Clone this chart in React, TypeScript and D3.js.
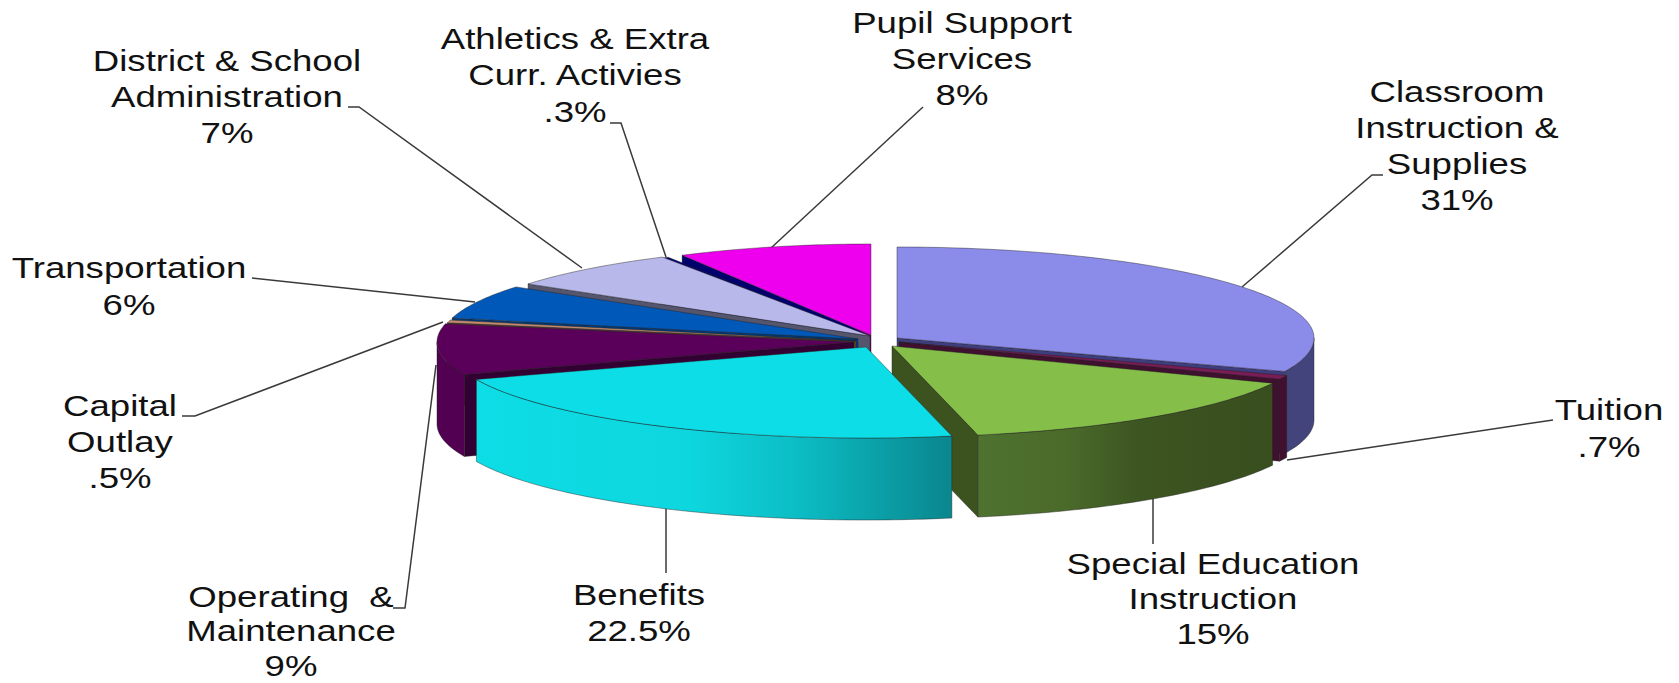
import React from "react";
import * as d3 from "d3";

// Share of the budget per category, clockwise from twelve o'clock
const categories = [
  "Classroom Instruction & Supplies",
  "Tuition",
  "Special Education Instruction",
  "Benefits",
  "Operating & Maintenance",
  "Capital Outlay",
  "Transportation",
  "District & School Administration",
  "Athletics & Extra Curr. Activies",
  "Pupil Support Services",
];
const shares = [31, 0.7, 15, 22.5, 9, 0.5, 6, 7, 0.3, 8];
const shareLabels = ["31%", ".7%", "15%", "22.5%", "9%", ".5%", "6%", "7%", ".3%", "8%"];

const topColors = ["#8b8bea", "#7a1c55", "#85bf4a", "#0ddde6", "#5a005a", "#c48a6e", "#0058b8", "#b8b8ea", "#00006e", "#ee00ee"];
const rimColors = ["#44447c", "#40102f", "url(#greenRim)", "url(#tealRim)", "#520052", "#63452f", "#003a78", "#5c5c75", "#00004a", "#660066"];
const edgeColors = ["#3e3e7e", "#40102f", "#3c5320", "#0a8a90", "#330033", "#63452f", "#003a78", "#55556e", "#00004a", "url(#magentaEdge)"];

// Pixel centre of each wedge once pulled out of the pie
const wedgeCentres: [number, number][] = [
  [897, 338], [899, 342], [892, 346], [866, 347], [854, 342],
  [856, 341], [858, 339], [870, 336], [869, 337], [871, 335],
];
// Horizontal radius per wedge; the far wedge reads narrower in perspective
const wedgeRadii = [417, 417, 417, 417, 417, 417, 417, 417, 417, 392];
// Painter's order: far wedges first, nearest last
const paintOrder = [9, 8, 7, 6, 5, 4, 0, 1, 2, 3];

const RY = 91;
const DEPTH = 82;

// Label lines, one entry per wedge
const labelLines = [
  ["Classroom", "Instruction &", "Supplies"],
  ["Tuition"],
  ["Special Education", "Instruction"],
  ["Benefits"],
  ["Operating\u00a0 &", "Maintenance"],
  ["Capital", "Outlay"],
  ["Transportation"],
  ["District & School", "Administration"],
  ["Athletics & Extra", "Curr. Activies"],
  ["Pupil Support", "Services"],
];
// Centre x and first baseline of each label block
const labelAnchors: [number, number][] = [
  [1457, 102], [1609, 420], [1213, 574], [639, 605], [291, 606.5],
  [120, 416], [129, 278], [227, 71], [575, 49], [962, 33],
];
const labelGaps = [36, 37, 35, 36, 35, 36, 37, 36, 36.5, 36];
const FONT_SIZE = 30;
const TEXT_STRETCH = 1.22;

// Leader polylines from label to wedge
const leaders: [number, number][][] = [
  [[1383, 175], [1372, 175], [1242, 287]],
  [[1553, 420], [1287, 460]],
  [[1153, 497], [1153, 544]],
  [[666, 507], [666, 573]],
  [[393, 608], [405, 608], [436, 365]],
  [[182, 416], [195, 416], [443, 322]],
  [[252, 278], [475, 302]],
  [[348, 107], [359, 107], [582, 268]],
  [[610, 123], [621, 123], [666, 257]],
  [[923, 107], [771, 248]],
];

const wedges = d3.pie<number>().sort(null)(shares);

type Pt = [number, number];
const toLine = d3.line<Pt>();

function rimPoint(i: number, a: number, drop = 0): Pt {
  const [cx, cy] = wedgeCentres[i];
  return [cx + wedgeRadii[i] * Math.sin(a), cy - RY * Math.cos(a) + drop];
}

function sweep(a0: number, a1: number): number[] {
  const n = Math.max(2, Math.ceil(((a1 - a0) * 180) / Math.PI));
  return d3.range(n + 1).map((k) => a0 + ((a1 - a0) * k) / n);
}

function topPath(i: number, a0: number, a1: number) {
  const pts: Pt[] = [wedgeCentres[i], ...sweep(a0, a1).map((a) => rimPoint(i, a))];
  return toLine(pts) + "Z";
}

function edgePath(i: number, a: number) {
  const [cx, cy] = wedgeCentres[i];
  const pts: Pt[] = [[cx, cy], rimPoint(i, a), rimPoint(i, a, DEPTH), [cx, cy + DEPTH]];
  return toLine(pts) + "Z";
}

function rimPath(i: number, a0: number, a1: number) {
  const from = Math.max(a0, Math.PI / 2);
  const to = Math.min(a1, (3 * Math.PI) / 2);
  if (to <= from) return null;
  const arc = sweep(from, to);
  const pts: Pt[] = [
    ...arc.map((a) => rimPoint(i, a)),
    ...arc.slice().reverse().map((a) => rimPoint(i, a, DEPTH)),
  ];
  return toLine(pts) + "Z";
}

export default function App() {
  return (
    <svg
      width={1679}
      height={683}
      viewBox="0 0 1679 683"
      style={{ position: "absolute", left: 0, top: 0, background: "#fff" }}
    >
      <defs>
        <linearGradient id="tealRim" x1="0" x2="1" y1="0" y2="0">
          <stop offset="0" stopColor="#0ddde6" />
          <stop offset="0.45" stopColor="#0ed6de" />
          <stop offset="0.68" stopColor="#0cbcc4" />
          <stop offset="1" stopColor="#0a868e" />
        </linearGradient>
        <linearGradient id="greenRim" x1="0" x2="1" y1="0" y2="0">
          <stop offset="0" stopColor="#4f7230" />
          <stop offset="0.3" stopColor="#4a6a2a" />
          <stop offset="0.55" stopColor="#3d5521" />
          <stop offset="1" stopColor="#384e1e" />
        </linearGradient>
        <linearGradient id="magentaEdge" x1="0" x2="1" y1="0" y2="0">
          <stop offset="0" stopColor="#00006e" />
          <stop offset="0.9" stopColor="#00006e" />
          <stop offset="0.97" stopColor="#660066" />
          <stop offset="1" stopColor="#660066" />
        </linearGradient>
      </defs>

      <g fill="none" stroke="#3a3a3a" strokeWidth={1.5}>
        {leaders.map((pts, i) => (
          <path key={i} d={toLine(pts) ?? ""} />
        ))}
      </g>

      {paintOrder.map((i) => {
        const { startAngle: a0, endAngle: a1 } = wedges[i];
        const outline = { stroke: "#222", strokeOpacity: 0.55, strokeWidth: 0.8 };
        const rim = rimPath(i, a0, a1);
        return (
          <g key={categories[i]}>
            {a0 > Math.PI && <path d={edgePath(i, a0)} fill={edgeColors[i]} {...outline} />}
            {a1 < Math.PI && <path d={edgePath(i, a1)} fill={edgeColors[i]} {...outline} />}
            {rim && <path d={rim} fill={rimColors[i]} {...outline} />}
            <path d={topPath(i, a0, a1)} fill={topColors[i]} {...outline} />
          </g>
        );
      })}

      <g fontFamily="'Liberation Sans', Arial, sans-serif" fontSize={FONT_SIZE} fill="#111" textAnchor="middle">
        {labelLines.map((lines, i) => {
          const [x, y] = labelAnchors[i];
          return (
            <g key={i} transform={`translate(${x},${y}) scale(${TEXT_STRETCH},1)`}>
              {[...lines, shareLabels[i]].map((t, k) => (
                <text key={k} y={k * labelGaps[i]}>
                  {t}
                </text>
              ))}
            </g>
          );
        })}
      </g>
    </svg>
  );
}
